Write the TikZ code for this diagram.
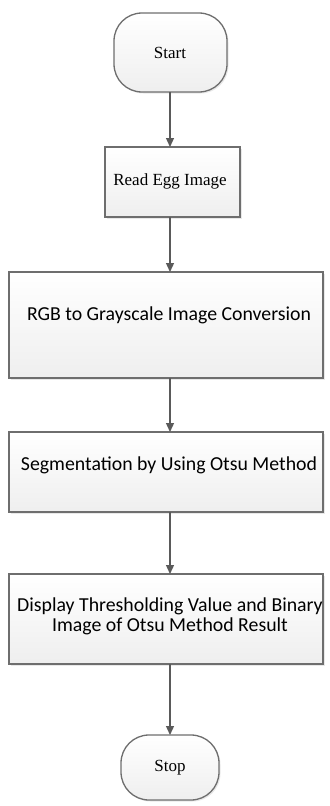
\documentclass[tikz,border=0pt]{standalone}
\usepackage{fontspec}
\usetikzlibrary{arrows.meta,shadows}
\newfontfamily\flowserif{Liberation Serif}
\newfontfamily\flowsans{Carlito}
\definecolor{edgegray}{HTML}{6E6E6E}
\definecolor{linegray}{HTML}{5A5A5A}
\begin{document}
\begin{tikzpicture}[x=1bp,y=-1bp,
  boxbase/.style={draw=edgegray, line width=1.3bp, top color=white, bottom color=gray!13,
    drop shadow={shadow xshift=1.5bp, shadow yshift=-1.5bp, opacity=0.18}},
  terminal/.style={boxbase, rounded corners=28bp},
  process/.style={boxbase},
  seriflabel/.style={font=\flowserif\fontsize{17bp}{20bp}\selectfont, inner sep=0pt},
  sanslabel/.style={font=\flowsans\fontsize{19.8bp}{20bp}\selectfont, inner sep=0pt, align=center},
  flow/.style={draw=linegray, line width=1.3bp, -{Triangle[width=8bp,length=9bp]}}
]
\useasboundingbox (0,0) rectangle (329,806);

% shapes
\draw[terminal] (114,13) rectangle (227,92);
\draw[process]  (105,147) rectangle (240,217);
\draw[process]  (9,272) rectangle (323,378);
\draw[process]  (9,432) rectangle (323,512);
\draw[process]  (9,574) rectangle (323,664);
\draw[terminal] (121,735) rectangle (219,800);

% anchor coordinates on the shape outlines
\coordinate (startB) at (170,92);
\coordinate (readT)  at (170,147);
\coordinate (readB)  at (170,217);
\coordinate (rgbT)   at (170,272);
\coordinate (rgbB)   at (170,378);
\coordinate (segT)   at (170,432);
\coordinate (segB)   at (170,512);
\coordinate (dispT)  at (170,574);
\coordinate (dispB)  at (170,664);
\coordinate (stopT)  at (170,735);

% labels
\node[seriflabel] (start) at (170,52.5) {Start};
\node[seriflabel] (read)  at (170,181) {Read Egg Image};
\node[sanslabel]  (rgb)   at (169,315) {RGB to Grayscale Image Conversion};
\node[sanslabel]  (seg)   at (169,465) {Segmentation by Using Otsu Method};
\node[sanslabel]  (disp)  at (170,616) {Display Thresholding Value and Binary\\Image of Otsu Method Result};
\node[seriflabel] (stop)  at (170,768) {Stop};

% connectors
\draw[flow] (startB) -- (readT);
\draw[flow] (readB) -- (rgbT);
\draw[flow] (rgbB) -- (segT);
\draw[flow] (segB) -- (dispT);
\draw[flow] (dispB) -- (stopT);
\end{tikzpicture}
\end{document}
